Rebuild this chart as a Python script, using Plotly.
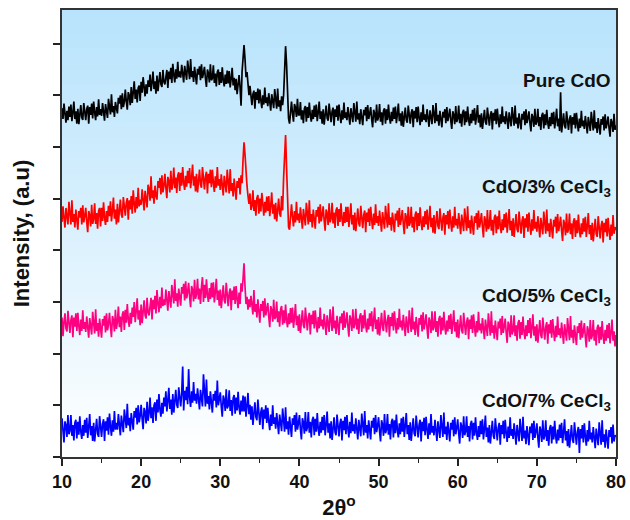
import numpy as np
import plotly.graph_objects as go

# 2-theta grid (degrees), 0.125 deg steps from 10 to 80
two_theta = np.round(np.arange(10, 80.0001, 0.125), 3)

pure_cdo = [
    675, 654, 684, 659, 647, 670, 652, 678,
    658, 682, 650, 667, 688, 654, 669, 645,
    674, 644, 667, 681, 657, 652, 685, 662,
    652, 673, 680, 645, 677, 662, 684, 655,
    688, 667, 652, 677, 659, 692, 662, 673,
    660, 685, 667, 651, 683, 672, 656, 693,
    681, 663, 702, 667, 679, 658, 687, 670,
    665, 695, 684, 700, 673, 704, 677, 687,
    711, 688, 672, 706, 699, 681, 716, 685,
    702, 727, 693, 711, 686, 714, 719, 689,
    726, 705, 735, 710, 698, 721, 703, 729,
    716, 740, 708, 725, 746, 712, 727, 703,
    738, 708, 731, 745, 721, 716, 749, 726,
    721, 742, 749, 714, 746, 731, 753, 724,
    761, 740, 725, 750, 732, 765, 735, 746,
    734, 759, 741, 725, 757, 746, 730, 767,
    749, 731, 770, 735, 747, 726, 755, 738,
    721, 751, 740, 756, 729, 760, 733, 743,
    755, 732, 716, 750, 743, 725, 760, 729,
    733, 758, 724, 742, 717, 745, 750, 720,
    745, 724, 754, 729, 717, 740, 722, 748,
    723, 747, 715, 732, 753, 719, 734, 710,
    732, 702, 725, 739, 715, 680, 745, 765,
    797, 770, 735, 745, 712, 700, 718, 690,
    681, 702, 709, 674, 706, 691, 713, 684,
    711, 690, 675, 700, 682, 715, 685, 696,
    679, 704, 686, 670, 702, 691, 675, 712,
    692, 674, 713, 678, 690, 669, 698, 681,
    700, 735, 795, 760, 705, 655, 645, 668,
    688, 665, 649, 683, 676, 658, 693, 662,
    662, 687, 653, 671, 646, 674, 679, 649,
    677, 656, 686, 661, 649, 672, 654, 680,
    658, 682, 650, 667, 688, 654, 669, 645,
    673, 643, 666, 680, 656, 651, 684, 661,
    648, 669, 676, 641, 673, 658, 680, 651,
    682, 661, 646, 671, 653, 686, 656, 667,
    652, 677, 659, 643, 675, 664, 648, 685,
    667, 649, 688, 653, 665, 644, 673, 656,
    642, 672, 661, 677, 650, 681, 654, 664,
    677, 654, 638, 672, 665, 647, 682, 651,
    658, 683, 649, 667, 642, 670, 675, 645,
    673, 652, 682, 657, 645, 668, 650, 676,
    654, 678, 646, 663, 684, 650, 665, 641,
    669, 639, 662, 676, 652, 647, 680, 657,
    645, 666, 673, 638, 670, 655, 677, 648,
    678, 657, 642, 667, 649, 682, 652, 663,
    648, 673, 655, 639, 671, 660, 644, 681,
    664, 646, 685, 650, 662, 641, 670, 653,
    638, 668, 657, 673, 646, 677, 650, 660,
    674, 651, 635, 669, 662, 644, 679, 648,
    655, 680, 646, 664, 639, 667, 672, 642,
    669, 648, 678, 653, 641, 664, 646, 672,
    651, 675, 643, 660, 681, 647, 662, 638,
    665, 635, 658, 672, 648, 643, 676, 653,
    641, 662, 669, 634, 666, 651, 673, 644,
    674, 653, 638, 663, 645, 678, 648, 659,
    644, 669, 651, 635, 667, 656, 640, 677,
    659, 641, 680, 645, 657, 636, 665, 648,
    634, 664, 653, 669, 642, 673, 646, 656,
    669, 646, 630, 664, 657, 639, 674, 643,
    649, 674, 640, 658, 633, 661, 666, 636,
    663, 642, 672, 647, 635, 658, 640, 666,
    644, 668, 636, 653, 674, 640, 655, 631,
    706, 628, 651, 665, 641, 636, 669, 646,
    633, 654, 661, 626, 658, 643, 665, 636,
    666, 645, 630, 655, 637, 670, 640, 651,
    635, 660, 642, 626, 658, 647, 631, 668,
    650, 632, 671, 636, 648, 627, 656, 639,
    624, 654, 643, 659, 632, 663, 636, 646,
    659, 636, 620, 654, 647, 629, 664, 633,
    642,
]

cdo_3 = [
    455, 485, 463, 444, 482, 469, 450, 494,
    472, 450, 497, 455, 470, 444, 479, 459,
    440, 476, 463, 482, 450, 487, 454, 466,
    482, 455, 435, 476, 468, 446, 488, 451,
    461, 491, 451, 472, 442, 476, 482, 446,
    482, 457, 493, 463, 449, 476, 455, 486,
    466, 495, 456, 477, 502, 461, 479, 450,
    490, 454, 481, 498, 469, 463, 503, 475,
    467, 492, 501, 459, 497, 479, 505, 471,
    516, 491, 473, 503, 481, 521, 485, 498,
    488, 518, 496, 477, 515, 502, 483, 527,
    518, 496, 543, 501, 516, 490, 525, 505,
    498, 534, 521, 540, 508, 545, 512, 524,
    548, 521, 501, 542, 534, 512, 554, 517,
    530, 560, 520, 541, 511, 545, 551, 515,
    550, 525, 561, 531, 517, 544, 523, 554,
    530, 559, 520, 541, 566, 525, 543, 514,
    548, 512, 539, 556, 527, 521, 561, 533,
    518, 543, 552, 510, 548, 530, 556, 522,
    556, 531, 513, 543, 521, 561, 525, 538,
    517, 547, 525, 506, 544, 531, 512, 556,
    532, 510, 557, 515, 530, 504, 539, 519,
    498, 534, 521, 540, 508, 545, 530, 575,
    609, 585, 540, 525, 505, 490, 510, 478,
    486, 516, 476, 497, 467, 501, 507, 471,
    500, 475, 511, 481, 467, 494, 473, 504,
    476, 505, 466, 487, 512, 471, 489, 460,
    492, 456, 483, 500, 471, 465, 505, 477,
    540, 585, 623, 560, 500, 445, 440, 470,
    489, 464, 446, 476, 454, 494, 458, 471,
    453, 483, 461, 442, 480, 467, 448, 492,
    472, 450, 497, 455, 470, 444, 479, 459,
    442, 478, 465, 484, 452, 489, 456, 468,
    485, 458, 438, 479, 471, 449, 491, 454,
    462, 492, 452, 473, 443, 477, 483, 447,
    480, 455, 491, 461, 447, 474, 453, 484,
    455, 484, 445, 466, 491, 450, 468, 439,
    473, 437, 464, 481, 452, 446, 486, 458,
    443, 468, 477, 435, 473, 455, 481, 447,
    484, 459, 441, 471, 449, 489, 453, 466,
    447, 477, 455, 436, 474, 461, 442, 486,
    466, 444, 491, 449, 464, 438, 473, 453,
    435, 471, 458, 477, 445, 482, 449, 461,
    478, 451, 431, 472, 464, 442, 484, 447,
    454, 484, 444, 465, 435, 469, 475, 439,
    472, 447, 483, 453, 439, 466, 445, 476,
    450, 479, 440, 461, 486, 445, 463, 434,
    468, 432, 459, 476, 447, 441, 481, 453,
    438, 463, 472, 430, 468, 450, 476, 442,
    479, 454, 436, 466, 444, 484, 448, 461,
    442, 472, 450, 431, 469, 456, 437, 481,
    460, 438, 485, 443, 458, 432, 467, 447,
    430, 466, 453, 472, 440, 477, 444, 456,
    472, 445, 425, 466, 458, 436, 478, 441,
    448, 478, 438, 459, 429, 463, 469, 433,
    466, 441, 477, 447, 433, 460, 439, 470,
    444, 473, 434, 455, 480, 439, 457, 428,
    462, 426, 453, 470, 441, 435, 475, 447,
    432, 457, 466, 424, 462, 444, 470, 436,
    473, 448, 430, 460, 438, 478, 442, 455,
    436, 466, 444, 425, 463, 450, 431, 475,
    454, 432, 479, 437, 452, 426, 461, 441,
    423, 459, 446, 465, 433, 470, 437, 449,
    465, 438, 418, 459, 451, 429, 471, 434,
    441, 471, 431, 452, 422, 456, 462, 426,
    458, 433, 469, 439, 425, 452, 431, 462,
    436, 465, 426, 447, 472, 431, 449, 420,
    453, 417, 444, 461, 432, 426, 466, 438,
    423, 448, 457, 415, 453, 435, 461, 427,
    463, 438, 420, 450, 428, 468, 432, 445,
    439,
]

cdo_5 = [
    270, 234, 261, 278, 249, 243, 283, 255,
    240, 265, 274, 232, 270, 252, 278, 244,
    279, 254, 236, 266, 244, 284, 248, 261,
    242, 272, 250, 231, 269, 256, 237, 281,
    261, 239, 286, 244, 259, 233, 268, 248,
    231, 267, 254, 273, 241, 278, 245, 257,
    279, 252, 232, 273, 265, 243, 285, 248,
    261, 291, 251, 272, 242, 276, 282, 246,
    285, 260, 296, 266, 252, 279, 258, 289,
    271, 300, 261, 282, 307, 266, 284, 255,
    295, 259, 286, 303, 274, 268, 308, 280,
    274, 299, 308, 266, 304, 286, 312, 278,
    323, 298, 280, 310, 288, 328, 292, 305,
    294, 324, 302, 283, 321, 308, 289, 333,
    319, 297, 344, 302, 317, 291, 326, 306,
    293, 329, 316, 335, 303, 340, 307, 319,
    337, 310, 290, 331, 323, 301, 343, 306,
    315, 345, 305, 326, 296, 330, 348, 300,
    333, 308, 344, 314, 300, 327, 306, 337,
    309, 338, 299, 320, 345, 304, 322, 293,
    324, 288, 315, 332, 303, 297, 337, 309,
    292, 317, 326, 284, 322, 304, 330, 296,
    331, 306, 288, 318, 296, 336, 320, 345,
    375, 330, 296, 310, 285, 305, 290, 312,
    298, 276, 323, 281, 296, 270, 305, 285,
    260, 296, 283, 302, 270, 307, 274, 286,
    298, 271, 251, 292, 284, 262, 304, 267,
    271, 301, 261, 282, 252, 286, 292, 256,
    284, 259, 295, 265, 251, 278, 257, 288,
    260, 289, 250, 271, 296, 255, 273, 244,
    276, 240, 267, 284, 255, 249, 289, 261,
    245, 270, 279, 237, 275, 257, 283, 249,
    284, 259, 241, 271, 249, 289, 253, 266,
    247, 277, 255, 236, 274, 261, 242, 286,
    266, 244, 291, 249, 264, 238, 273, 253,
    236, 272, 259, 278, 246, 283, 250, 262,
    280, 253, 233, 274, 266, 244, 286, 249,
    257, 287, 247, 268, 238, 272, 278, 242,
    274, 249, 285, 255, 241, 268, 247, 278,
    253, 282, 243, 264, 289, 248, 266, 237,
    271, 235, 262, 279, 250, 244, 284, 256,
    241, 266, 275, 233, 271, 253, 279, 245,
    282, 257, 239, 269, 247, 287, 251, 264,
    245, 275, 253, 234, 272, 259, 240, 284,
    264, 242, 289, 247, 262, 236, 271, 251,
    233, 269, 256, 275, 243, 280, 247, 259,
    276, 249, 229, 270, 262, 240, 282, 245,
    252, 282, 242, 263, 233, 267, 273, 237,
    270, 245, 281, 251, 237, 264, 243, 274,
    248, 277, 238, 259, 284, 243, 261, 232,
    266, 230, 257, 274, 245, 239, 279, 251,
    236, 261, 270, 228, 266, 248, 274, 240,
    276, 251, 233, 263, 241, 281, 245, 258,
    239, 269, 247, 228, 266, 253, 234, 278,
    257, 235, 282, 240, 255, 229, 264, 244,
    226, 262, 249, 268, 236, 273, 240, 252,
    268, 241, 221, 262, 254, 232, 274, 237,
    244, 274, 234, 255, 225, 259, 265, 229,
    261, 236, 272, 242, 228, 255, 234, 265,
    240, 269, 230, 251, 276, 235, 253, 224,
    257, 221, 248, 265, 236, 230, 270, 242,
    227, 252, 261, 219, 257, 239, 265, 231,
    267, 242, 224, 254, 232, 272, 236, 249,
    230, 260, 238, 219, 257, 244, 225, 269,
    248, 226, 273, 231, 246, 220, 255, 235,
    217, 253, 240, 259, 227, 264, 231, 243,
    259, 232, 212, 253, 245, 223, 265, 228,
    235, 265, 225, 246, 216, 250, 256, 220,
    252, 227, 263, 233, 219, 246, 225, 256,
    230, 259, 220, 241, 266, 225, 243, 214,
    236,
]

cdo_7 = [
    75, 48, 28, 69, 61, 39, 81, 44,
    51, 81, 41, 62, 32, 66, 72, 36,
    68, 43, 79, 49, 35, 62, 41, 72,
    47, 76, 37, 58, 83, 42, 60, 31,
    66, 30, 57, 74, 45, 39, 79, 51,
    39, 64, 73, 31, 69, 51, 77, 43,
    84, 59, 41, 71, 49, 89, 53, 66,
    53, 83, 61, 42, 80, 67, 48, 92,
    78, 56, 103, 61, 76, 50, 85, 65,
    53, 89, 76, 95, 63, 100, 67, 79,
    101, 74, 54, 95, 87, 65, 107, 70,
    85, 115, 75, 96, 66, 100, 106, 70,
    111, 86, 122, 92, 78, 105, 84, 115,
    98, 127, 88, 109, 134, 93, 111, 82,
    122, 86, 113, 130, 101, 95, 135, 107,
    98, 123, 175, 90, 128, 110, 136, 102,
    170, 115, 97, 127, 105, 145, 109, 122,
    103, 133, 111, 92, 130, 117, 98, 160,
    120, 98, 150, 103, 118, 92, 127, 107,
    86, 122, 109, 128, 96, 148, 100, 112,
    125, 98, 78, 119, 111, 89, 131, 94,
    99, 129, 89, 110, 80, 114, 120, 84,
    115, 90, 126, 96, 82, 109, 88, 119,
    88, 117, 78, 99, 124, 83, 101, 72,
    98, 62, 89, 106, 77, 71, 111, 83,
    62, 87, 96, 54, 92, 74, 100, 66,
    95, 70, 52, 82, 60, 100, 64, 77,
    55, 85, 63, 44, 82, 69, 50, 94,
    71, 49, 96, 54, 69, 43, 78, 58,
    39, 75, 62, 81, 49, 86, 53, 65,
    81, 54, 34, 75, 67, 45, 87, 50,
    57, 87, 47, 68, 38, 72, 78, 42,
    74, 49, 85, 55, 41, 68, 47, 78,
    52, 81, 42, 63, 88, 47, 65, 36,
    69, 33, 60, 77, 48, 42, 82, 54,
    40, 65, 74, 32, 70, 52, 78, 44,
    81, 56, 38, 68, 46, 86, 50, 63,
    45, 75, 53, 34, 72, 59, 40, 84,
    64, 42, 89, 47, 62, 36, 71, 51,
    34, 70, 57, 76, 44, 81, 48, 60,
    77, 50, 30, 71, 63, 41, 83, 46,
    53, 83, 43, 64, 34, 68, 74, 38,
    71, 46, 82, 52, 38, 65, 44, 75,
    49, 78, 39, 60, 85, 44, 62, 33,
    67, 31, 58, 75, 46, 40, 80, 52,
    38, 63, 72, 30, 68, 50, 76, 42,
    78, 53, 35, 65, 43, 83, 47, 60,
    42, 72, 50, 31, 69, 56, 37, 81,
    61, 39, 86, 44, 59, 33, 68, 48,
    30, 66, 53, 72, 40, 77, 44, 56,
    73, 46, 26, 67, 59, 37, 79, 42,
    49, 79, 39, 60, 30, 64, 70, 34,
    66, 41, 77, 47, 33, 60, 39, 70,
    44, 73, 34, 55, 80, 39, 57, 28,
    62, 26, 53, 70, 41, 35, 75, 47,
    32, 57, 66, 24, 62, 44, 70, 36,
    72, 47, 29, 59, 37, 77, 41, 54,
    35, 65, 43, 24, 62, 49, 30, 74,
    53, 31, 78, 36, 51, 25, 60, 40,
    23, 59, 46, 65, 33, 70, 37, 49,
    65, 38, 18, 59, 51, 29, 71, 34,
    41, 71, 31, 52, 22, 56, 62, 26,
    59, 34, 70, 40, 26, 53, 32, 63,
    37, 66, 27, 48, 73, 32, 50, 21,
    54, 18, 45, 62, 33, 27, 67, 39,
    24, 49, 58, 8, 54, 36, 62, 28,
    65, 40, 22, 52, 30, 70, 34, 47,
    28, 58, 36, 17, 55, 42, 23, 67,
    46, 24, 71, 29, 44, 18, 53, 33,
    16, 52, 39, 58, 26, 63, 30, 42,
    39,
]

series_names = ["Pure CdO", "CdO/3% CeCl<sub>3</sub>", "CdO/5% CeCl<sub>3</sub>", "CdO/7% CeCl<sub>3</sub>"]
series_values = [pure_cdo, cdo_3, cdo_5, cdo_7]
series_colors = ["#000000", "#ff0000", "#ff0080", "#0000ff"]
label_y = [729, 520, 309, 106]

for v in series_values:
    assert len(v) == len(two_theta), len(v)

fig = go.Figure()
for name, vals, col in zip(series_names, series_values, series_colors):
    fig.add_trace(go.Scatter(x=two_theta, y=vals, mode="lines", name=name,
                             line=dict(color=col, width=1.7), showlegend=False))

# gradient background (light blue at top -> white at bottom)
n = 60
top = (183, 227, 252)
shapes = []
for i in range(n):
    f = (i + 0.5) / n
    r = round(255 + (top[0] - 255) * f)
    g = round(255 + (top[1] - 255) * f)
    b = round(255 + (top[2] - 255) * f)
    shapes.append(dict(type="rect", xref="paper", yref="paper", x0=0, x1=1,
                       y0=i / n, y1=(i + 1) / n + 0.002, layer="below",
                       fillcolor=f"rgb({r},{g},{b})", line=dict(width=0)))

annotations = []
for name, y in zip(series_names, label_y):
    annotations.append(dict(x=0.995, xref="paper", y=y, yref="y", text=f"<b>{name}</b>",
                            showarrow=False, xanchor="right", yanchor="middle",
                            font=dict(family="Liberation Sans, Arial", size=19, color="#111")))

fig.update_layout(
    width=630, height=520,
    margin=dict(l=62, r=14, t=10, b=63),
    paper_bgcolor="white", plot_bgcolor="white",
    shapes=shapes, annotations=annotations,
    font=dict(family="Liberation Sans, Arial", color="#111"),
)
fig.update_xaxes(
    range=[10, 80], dtick=10, tick0=10, ticks="outside", ticklen=7, tickwidth=1.5,
    tickcolor="#222", showgrid=False, zeroline=False, automargin=False,
    showline=True, linecolor="#333", linewidth=1.8, mirror=True,
    minor=dict(dtick=5, ticks="outside", ticklen=4, tickwidth=1.2, tickcolor="#222"),
    tickfont=dict(size=18, weight="bold", color="#111"),
    title=dict(text="<b>2θ<sup>o</sup></b>", font=dict(size=22), standoff=12),
)
fig.update_yaxes(
    range=[0, 865], dtick=100, tick0=0, ticks="outside", ticklen=7, tickwidth=1.5,
    tickcolor="#222", showticklabels=False, showgrid=False, zeroline=False, automargin=False,
    showline=True, linecolor="#333", linewidth=1.8, mirror=True,
    title=dict(text="<b>Intensity, (a.u)</b>", font=dict(size=22), standoff=17),
)

fig.write_html("out.html", config={"displayModeBar": False},
               post_script="document.body.style.margin='0';")
